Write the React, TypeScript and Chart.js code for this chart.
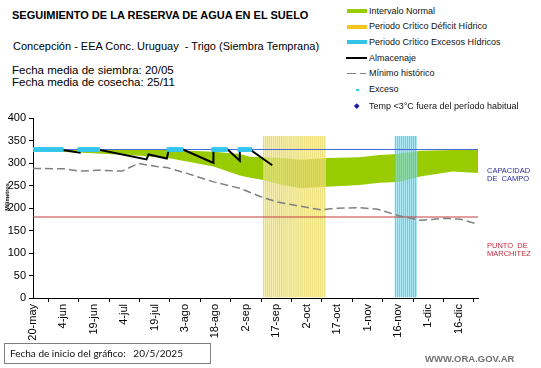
import React, { useEffect, useRef } from 'react';
import { Chart, registerables } from 'chart.js';
Chart.register(...registerables);

// ---- data (x = days since 20-may) ----
const tickDays = [0, 15, 30, 45, 60, 75, 90, 105, 120, 135, 150, 165, 180, 195, 210];
const tickLabels = ['20-may', '4-jun', '19-jun', '4-jul', '19-jul', '3-ago', '18-ago', '2-sep', '17-sep', '2-oct', '17-oct', '1-nov', '16-nov', '1-dic', '16-dic'];
const X_MAX = 219.5;
const Y_MAX = 400;
const Y_STEP = 50;

const normalDays = [0, 27, 53, 68, 89, 102, 107, 113, 123, 132, 145, 161, 171, 180, 191, 207, 219.5];
const normalLower = [327, 322, 316, 310, 292, 272, 267, 263, 251, 244, 247, 251, 256, 258, 270, 281, 278];
const normalUpper = [331, 330, 330, 329, 325, 320, 314, 313, 311, 307, 311, 313, 318, 320, 327, 329, 329];

const almacenajeDays = [0, 13, 23, 23, 32, 56, 57, 66, 67, 74, 89, 89, 96, 102, 102, 107, 118];
const almacenajeValues = [330, 330, 323, 330, 330, 308, 319, 310, 330, 330, 300, 330, 330, 305, 330, 330, 295];

const minimoDays = [0, 15, 23, 32, 44, 52, 61, 66, 76, 89, 102, 113, 120, 128, 142, 148, 161, 170, 181, 191, 204, 211, 219.5];
const minimoValues = [288, 287, 282, 284, 282, 299, 292, 290, 277, 258, 244, 224, 214, 207, 196, 199, 201, 197, 182, 173, 177, 175, 164];

const excesoDays = [0, 1, 2, 3, 4, 5, 6, 7, 8, 9, 10, 11, 12, 13, 14, 23, 24, 25, 26, 27, 28, 29, 30, 31, 32, 67, 68, 69, 70, 71, 72, 73, 89, 90, 91, 92, 93, 94, 95, 102, 103, 104, 105, 106, 107];

const deficitPeriodDays = [114, 115, 116, 117, 118, 119, 120, 121, 122, 123, 124, 125, 126, 127, 128, 129, 130, 131, 132, 133, 134, 135, 136, 137, 138, 139, 140, 141, 142, 143, 144];
const excessPeriodDays = [179, 180, 181, 182, 183, 184, 185, 186, 187, 188, 189];

const CAPACIDAD_CAMPO = 330;
const PUNTO_MARCHITEZ = 180;
const PERIOD_TOP = 360;

const FONT = '"Liberation Sans", Arial, sans-serif';

const pts = (xs: number[], ys: number[]) => xs.map((x, i) => ({ x, y: ys[i] }));
const flat = (xs: number[], v: number) => xs.map((x) => ({ x, y: v }));

const GREEN = '#99cc00';
const CYAN = '#33c6ee';

export default function App() {
  const ref = useRef<HTMLCanvasElement | null>(null);

  useEffect(() => {
    if (!ref.current) return;
    const chart = new Chart(ref.current, {
      type: 'line',
      data: {
        datasets: [
          {
            type: 'line', label: 'Exceso', data: flat(excesoDays, CAPACIDAD_CAMPO), showLine: false,
            pointStyle: 'rect', pointRadius: 3.2, pointBackgroundColor: CYAN, pointBorderWidth: 0, order: 0,
          },
          {
            type: 'line', label: 'Almacenaje', data: pts(almacenajeDays, almacenajeValues), borderColor: '#000',
            borderWidth: 2, pointRadius: 0, tension: 0, order: 1,
          },
          {
            type: 'line', label: 'Mínimo histórico', data: pts(minimoDays, minimoValues), borderColor: '#808080',
            borderWidth: 1.5, borderDash: [8, 4], pointRadius: 0, tension: 0, order: 2,
          },
          {
            type: 'line', label: 'Capacidad de campo', data: flat([0, X_MAX], CAPACIDAD_CAMPO), borderColor: '#4a6ad8',
            borderWidth: 1, pointRadius: 0, order: 3,
          },
          {
            type: 'line', label: 'Punto de marchitez', data: flat([0, X_MAX], PUNTO_MARCHITEZ), borderColor: '#c43a3a',
            borderWidth: 1, pointRadius: 0, order: 3,
          },
          {
            type: 'bar', label: 'Periodo Crítico Déficit Hídrico', data: flat(deficitPeriodDays, PERIOD_TOP),
            backgroundColor: 'rgba(250,244,175,0.5)', borderColor: 'rgba(228,210,80,0.8)',
            borderWidth: { left: 1, right: 0, top: 0, bottom: 0 }, borderSkipped: false,
            barPercentage: 1, categoryPercentage: 1, grouped: false, order: 5,
          } as any,
          {
            type: 'bar', label: 'Periodo Crítico Excesos Hídricos', data: flat(excessPeriodDays, PERIOD_TOP),
            backgroundColor: 'rgba(175,236,248,0.55)', borderColor: 'rgba(50,195,228,0.85)',
            borderWidth: { left: 1, right: 0, top: 0, bottom: 0 }, borderSkipped: false,
            barPercentage: 1, categoryPercentage: 1, grouped: false, order: 5,
          } as any,
          {
            type: 'line', label: 'normal-lower', data: pts(normalDays, normalLower), borderWidth: 0,
            pointRadius: 0, fill: false, order: 10,
          },
          {
            type: 'line', label: 'Intervalo Normal', data: pts(normalDays, normalUpper), borderWidth: 0,
            pointRadius: 0, fill: '-1', backgroundColor: GREEN, order: 10,
          },
        ],
      },
      options: {
        animation: false,
        responsive: false,
        maintainAspectRatio: false,
        layout: { padding: { top: 18, right: 12, left: 0, bottom: 0 } },
        plugins: { legend: { display: false }, tooltip: { enabled: false } },
        scales: {
          x: {
            type: 'linear', min: 0, max: X_MAX, offset: false,
            afterBuildTicks: (s: any) => { s.ticks = tickDays.map((v) => ({ value: v })); },
            afterFit: (s: any) => { s.height = 47; },
            ticks: {
              autoSkip: false, minRotation: 90, maxRotation: 90, padding: 2, color: '#000',
              font: { family: FONT, size: 11 },
              callback: (v: any) => tickLabels[tickDays.indexOf(Number(v))] ?? '',
            },
            grid: { display: true, drawOnChartArea: false, drawTicks: true, tickLength: 4, color: '#000' },
            border: { display: true, color: '#000' },
          },
          y: {
            min: 0, max: Y_MAX,
            afterFit: (s: any) => { s.width = 33; },
            ticks: { stepSize: Y_STEP, padding: 3, color: '#000', font: { family: FONT, size: 11 } },
            grid: { display: true, drawOnChartArea: false, drawTicks: true, tickLength: 4, color: '#000' },
            border: { display: true, color: '#000' },
          },
        },
      } as any,
    });
    return () => chart.destroy();
  }, []);

  const legend = [
    { label: 'Intervalo Normal', kind: 'bar', color: GREEN, y: 11 },
    { label: 'Periodo Crítico Déficit Hídrico', kind: 'bar', color: '#f3c61e', y: 26.5 },
    { label: 'Periodo Crítico Excesos Hídricos', kind: 'bar', color: '#33c3e6', y: 42 },
    { label: 'Almacenaje', kind: 'line', color: '#000', y: 58 },
    { label: 'Mínimo histórico', kind: 'dash', color: '#808080', y: 73.5 },
    { label: 'Exceso', kind: 'dot', color: CYAN, y: 89.5 },
    { label: 'Temp <3°C fuera del período habitual', kind: 'diamond', color: '#1c1ca8', y: 106 },
  ];

  const abs = (s: React.CSSProperties): React.CSSProperties => ({ position: 'absolute', ...s });

  return (
    <div style={{ position: 'fixed', left: 0, top: 0, width: 541, height: 368, background: '#fff', fontFamily: FONT, color: '#000', overflow: 'hidden' }}>
      <canvas ref={ref} width={490} height={245} style={abs({ left: 0, top: 100, width: 490, height: 245 })} />
      <div style={abs({ left: 12, top: 10, fontSize: 11, lineHeight: '11px', fontWeight: 'bold', whiteSpace: 'pre' })}>
        SEGUIMIENTO DE LA RESERVA DE AGUA EN EL SUELO
      </div>
      <div style={abs({ left: 13, top: 41, fontSize: 11, lineHeight: '11px', whiteSpace: 'pre' })}>
        {'Concepción - EEA Conc. Uruguay  - Trigo (Siembra Temprana)'}
      </div>
      <div style={abs({ left: 12, top: 64.3, fontSize: 11.5, lineHeight: '12px', whiteSpace: 'pre' })}>
        {'Fecha media de siembra: 20/05\nFecha media de cosecha: 25/11'}
      </div>
      {legend.map((l) => (
        <React.Fragment key={l.label}>
          {l.kind === 'bar' && <div style={abs({ left: 347, top: l.y - 2, width: 20, height: 4, background: l.color })} />}
          {l.kind === 'line' && <div style={abs({ left: 346, top: l.y - 1, width: 21, height: 2, background: l.color })} />}
          {l.kind === 'dash' && (
            <>
              <div style={abs({ left: 347, top: l.y - 0.75, width: 9, height: 1.5, background: l.color })} />
              <div style={abs({ left: 360, top: l.y - 0.75, width: 6, height: 1.5, background: l.color })} />
            </>
          )}
          {l.kind === 'dot' && <div style={abs({ left: 356, top: l.y - 1, width: 2.5, height: 2.5, background: l.color })} />}
          {l.kind === 'diamond' && <div style={abs({ left: 355, top: l.y - 2, width: 3.5, height: 3.5, background: l.color, transform: 'rotate(45deg)' })} />}
          <div style={abs({ left: 369, top: l.y - 4.5, fontSize: 9, lineHeight: '9px', whiteSpace: 'pre', color: '#111' })}>{l.label}</div>
        </React.Fragment>
      ))}
      <div style={abs({ left: 487, top: 166.5, fontSize: 7.5, lineHeight: '8.5px', color: '#2b2b9b', whiteSpace: 'pre' })}>
        {'CAPACIDAD\nDE  CAMPO'}
      </div>
      <div style={abs({ left: 487, top: 242.2, fontSize: 7.5, lineHeight: '8px', color: '#c8283c', whiteSpace: 'pre' })}>
        {'PUNTO  DE\nMARCHITEZ'}
      </div>
      <div style={abs({ left: 2, top: 197, width: 10, height: 0, fontSize: 5.5, lineHeight: '6px', fontWeight: 'bold', whiteSpace: 'pre' })}>
        <div style={{ position: 'absolute', left: -20, top: -3, width: 50, textAlign: 'center', transform: 'rotate(-90deg)' }}>Milímetros</div>
      </div>
      <div style={abs({ left: 4, top: 343, width: 205, height: 19, border: '1px solid #7f7f7f', boxSizing: 'content-box' })}>
        <div style={abs({ left: 5, top: 3, fontFamily: 'Lato, "Open Sans", sans-serif', fontSize: 10, lineHeight: '13px', whiteSpace: 'pre', color: '#111' })}>
          {'Fecha de inicio del gráfico:   20/5/2025'}
        </div>
      </div>
      <div style={abs({ left: 425, top: 354, fontSize: 9.5, lineHeight: '9.5px', fontWeight: 'bold', color: '#707070', whiteSpace: 'pre' })}>
        WWW.ORA.GOV.AR
      </div>
    </div>
  );
}
